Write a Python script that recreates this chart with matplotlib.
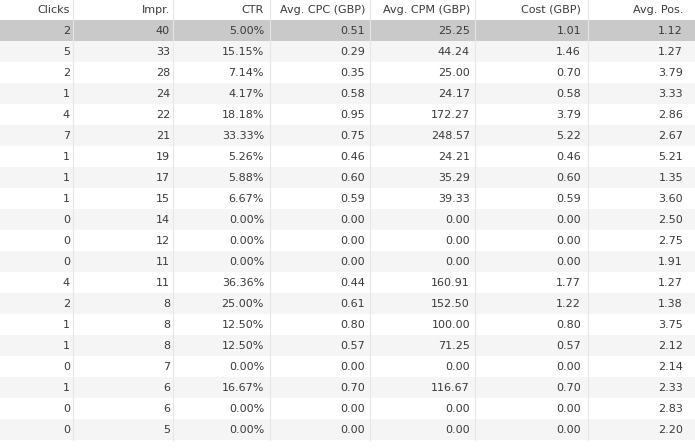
import matplotlib
matplotlib.use("Agg")
import matplotlib.pyplot as plt
from matplotlib.patches import Rectangle

headers = ["Clicks", "Impr.", "CTR", "Avg. CPC (GBP)", "Avg. CPM (GBP)", "Cost (GBP)", "Avg. Pos."]
clicks = [2, 5, 2, 1, 4, 7, 1, 1, 1, 0, 0, 0, 4, 2, 1, 1, 0, 1, 0, 0]
impr = [40, 33, 28, 24, 22, 21, 19, 17, 15, 14, 12, 11, 11, 8, 8, 8, 7, 6, 6, 5]
ctr = ["5.00%", "15.15%", "7.14%", "4.17%", "18.18%", "33.33%", "5.26%", "5.88%", "6.67%", "0.00%",
       "0.00%", "0.00%", "36.36%", "25.00%", "12.50%", "12.50%", "0.00%", "16.67%", "0.00%", "0.00%"]
cpc = [0.51, 0.29, 0.35, 0.58, 0.95, 0.75, 0.46, 0.60, 0.59, 0.00, 0.00, 0.00, 0.44, 0.61, 0.80, 0.57, 0.00, 0.70, 0.00, 0.00]
cpm = [25.25, 44.24, 25.00, 24.17, 172.27, 248.57, 24.21, 35.29, 39.33, 0.00, 0.00, 0.00, 160.91, 152.50, 100.00, 71.25, 0.00, 116.67, 0.00, 0.00]
cost = [1.01, 1.46, 0.70, 0.58, 3.79, 5.22, 0.46, 0.60, 0.59, 0.00, 0.00, 0.00, 1.77, 1.22, 0.80, 0.57, 0.00, 0.70, 0.00, 0.00]
avgpos = [1.12, 1.27, 3.79, 3.33, 2.86, 2.67, 5.21, 1.35, 3.60, 2.50, 2.75, 1.91, 1.27, 1.38, 3.75, 2.12, 2.14, 2.33, 2.83, 2.20]

cols = [
    [str(v) for v in clicks],
    [str(v) for v in impr],
    ctr,
    [f"{v:.2f}" for v in cpc],
    [f"{v:.2f}" for v in cpm],
    [f"{v:.2f}" for v in cost],
    [f"{v:.2f}" for v in avgpos],
]

W, H = 695, 448
col_edges = [0, 73, 173, 270, 370, 475, 588, 695]
text_right = [70, 170, 264, 365, 470, 581, 683]
header_h = 20
row_h = 21

fig = plt.figure(figsize=(W / 100, H / 100), dpi=100)
ax = fig.add_axes([0, 0, 1, 1])
ax.set_xlim(0, W)
ax.set_ylim(H, 0)
ax.axis("off")
fig.patch.set_facecolor("white")

n = len(clicks)
for i in range(n):
    y0 = header_h + i * row_h
    if i == 0:
        fc = "#c9c9c9"
    elif i % 2 == 1:
        fc = "#f5f5f5"
    else:
        fc = "white"
    ax.add_patch(Rectangle((0, y0), W, row_h, facecolor=fc, edgecolor="none"))
    for c in range(len(cols)):
        ax.text(text_right[c], y0 + row_h / 2 + 0.5, cols[c][i], ha="right", va="center",
                fontsize=8, color="#3a3a3a", family="DejaVu Sans")

for c, h in enumerate(headers):
    ax.text(text_right[c], header_h / 2, h, ha="right", va="center",
            fontsize=8, color="#3a3a3a", family="DejaVu Sans")
for x in col_edges[1:-1]:
    ax.plot([x, x], [0, header_h + n * row_h], color="#e6e6e6", lw=0.8)

fig.savefig("out.png", dpi=100)
